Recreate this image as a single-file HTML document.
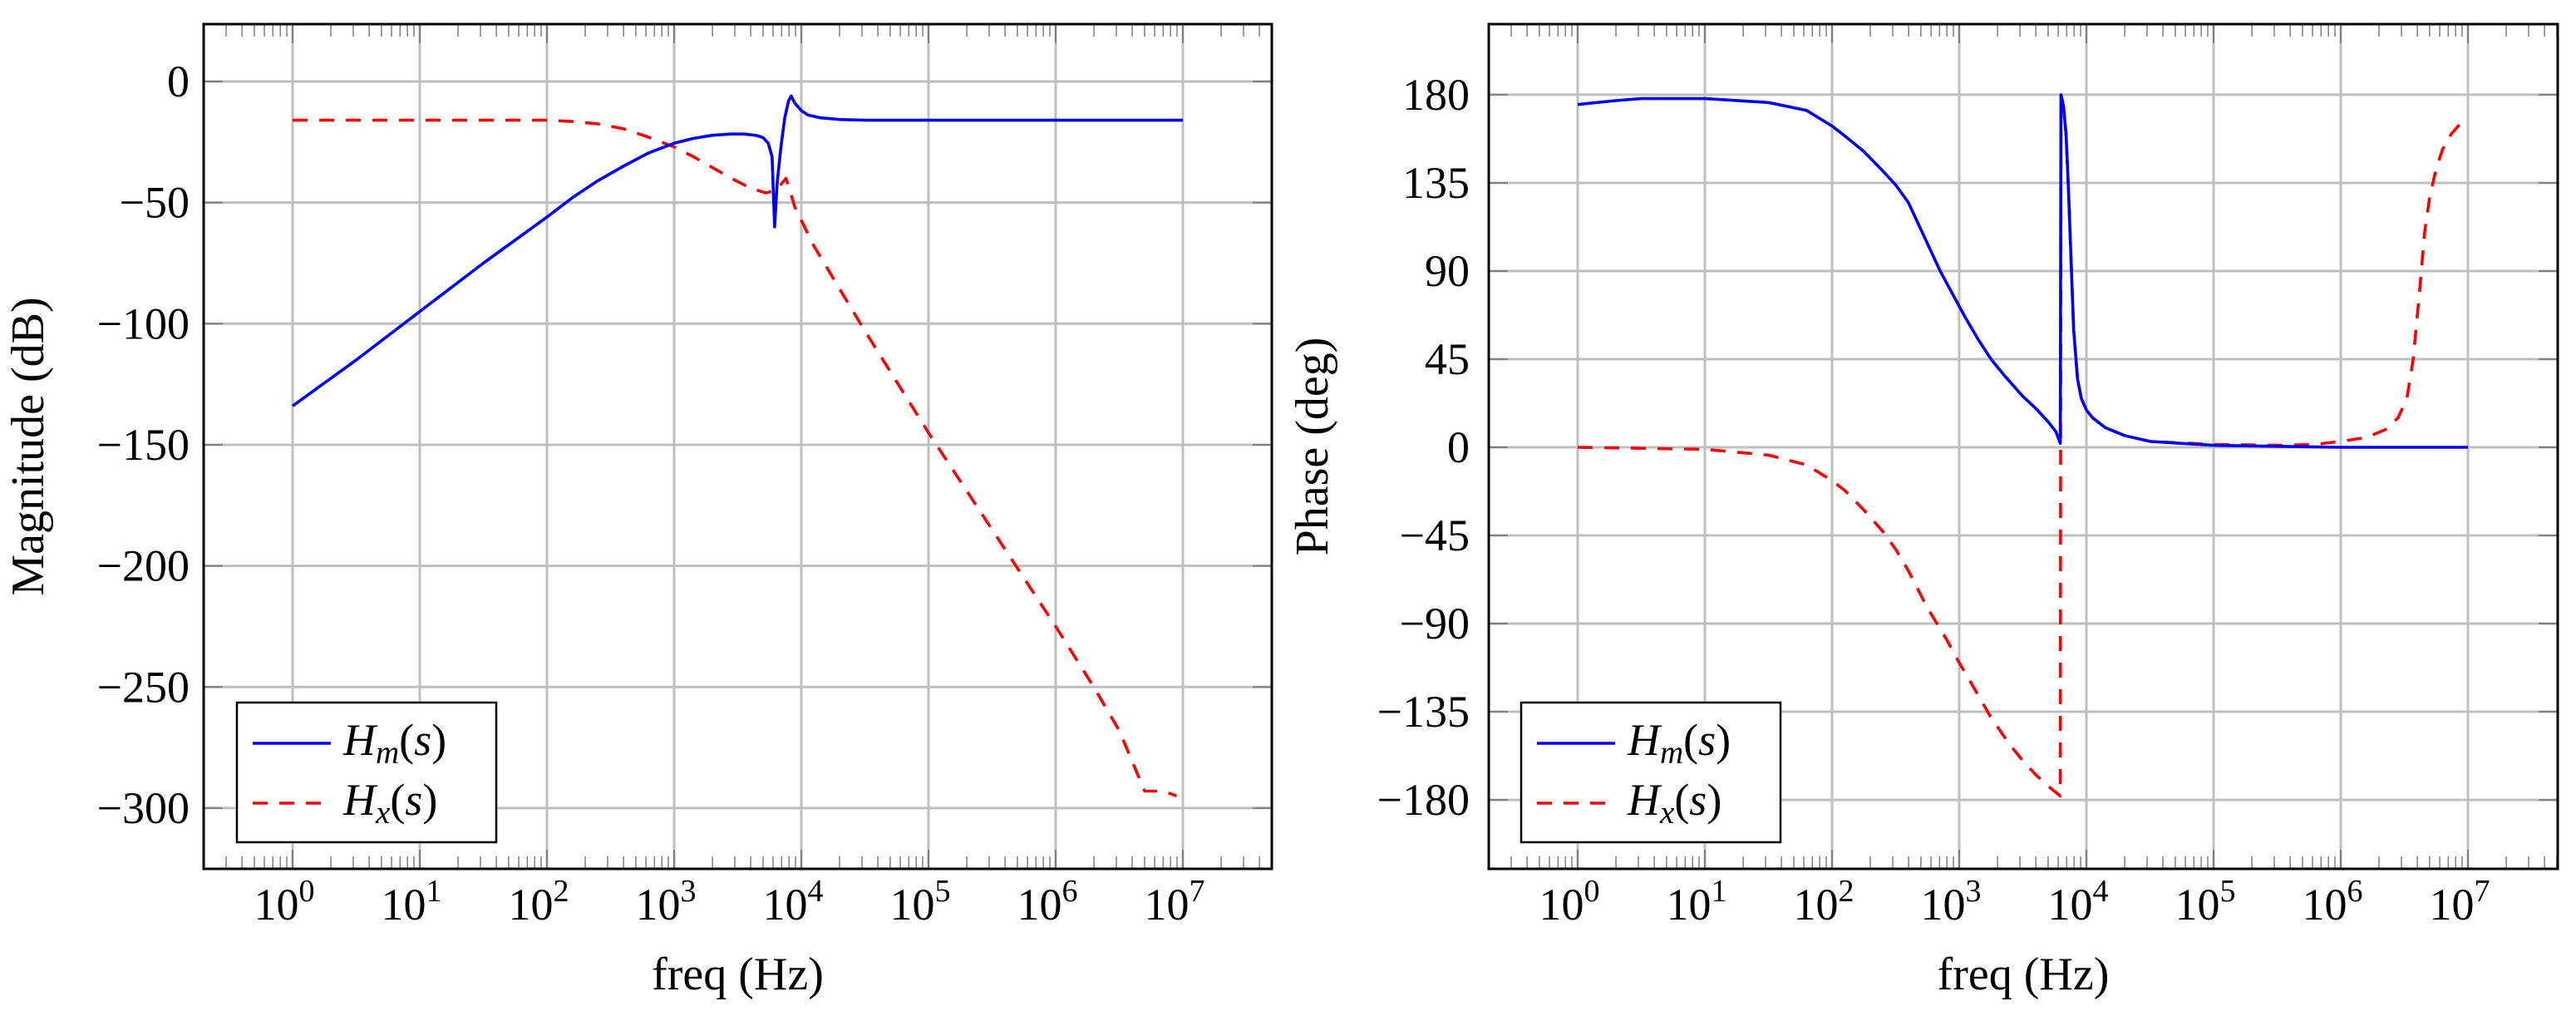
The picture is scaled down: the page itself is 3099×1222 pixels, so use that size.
<!DOCTYPE html>
<html><head><meta charset="utf-8"><style>
html,body{margin:0;padding:0;background:#fff;}
svg{display:block;}
text{font-family:"Liberation Serif","DejaVu Serif",serif;fill:#000;}
</style></head><body>
<svg id="fig" width="3099" height="1222" viewBox="0 0 3099 1222" xmlns="http://www.w3.org/2000/svg"></svg>
<script>
// ---- data (log10 frequency, value) ----
const magLogF_Hm = [0,0.5,1,1.5,2,2.2,2.4,2.6,2.8,3,3.15,3.3,3.45,3.55,3.65,3.7,3.74,3.77,3.79,3.81,3.84,3.87,3.9,3.92,3.95,4.0,4.05,4.15,4.3,4.5,5,6,7];
const magVal_Hm  = [-134,-115,-95,-75,-56,-48,-41,-35,-29.5,-25.5,-23.5,-22.2,-21.7,-21.7,-22.3,-23.2,-25.5,-31,-60,-42,-27,-15,-8,-6,-9,-12,-13.8,-15,-15.7,-16,-16,-16,-16];
const magLogF_Hx = [0,1,2,2.2,2.4,2.6,2.8,3,3.15,3.3,3.45,3.6,3.72,3.8,3.88,3.95,4.1,4.5,5,5.5,6,6.3,6.5,6.7,6.85,6.95];
const magVal_Hx  = [-16,-16,-16,-16.5,-17.5,-19.5,-23,-27,-31,-35.5,-40,-44,-46,-45,-40,-52,-68,-103,-145,-185,-225,-250,-268,-293,-293,-295];
const phLogF_Hm = [0,0.3,0.5,1,1.5,1.8,2,2.1,2.25,2.4,2.5,2.6,2.75,2.85,2.95,3.05,3.15,3.25,3.35,3.5,3.6,3.7,3.76,3.795,3.8,3.82,3.84,3.86,3.88,3.9,3.93,3.96,4.0,4.05,4.15,4.3,4.5,4.75,5,5.5,6,7];
const phVal_Hm  = [175,177,178,178,176,172,164,159,151,141,134,125,104,90,78,66,55,45,37,26,20,13,8,2,180,174,160,130,95,60,35,25,19,15,10,6,3,2,1,0.5,0,0];
const phLogF_Hx = [0,1,1.5,1.8,2,2.1,2.25,2.4,2.5,2.6,2.75,2.9,3,3.1,3.25,3.4,3.5,3.6,3.7,3.795,3.8,3.82,3.84,3.86,3.88,3.9,3.93,3.96,4.0,4.05,4.15,4.3,4.5,5,5.5,5.8,6,6.2,6.35,6.45,6.52,6.57,6.62,6.66,6.7,6.75,6.8,6.87,6.95];
const phVal_Hx  = [0,-1,-4,-9,-17,-22,-32,-43,-52,-63,-82,-98,-110,-121,-138,-152,-160,-167,-173,-178,180,174,160,130,95,60,35,25,19,15,10,6,3,1.5,1,1.5,3,5,9,15,25,45,80,110,128,142,152,160,166];
const xTickExp = [0,1,2,3,4,5,6,7];
const magTicks = [0,-50,-100,-150,-200,-250,-300];
const phTicks = [180,135,90,45,0,-45,-90,-135,-180];

const NS="http://www.w3.org/2000/svg";
const svg=document.getElementById('fig');
function el(tag,attrs,parent){const e=document.createElementNS(NS,tag);for(const k in attrs)e.setAttribute(k,attrs[k]);(parent||svg).appendChild(e);return e;}

function panel(cfg){
  const g=el('g',{});
  
  
  const L=cfg.left,R=cfg.right,T=29,B=1045;
  const x=v=>cfg.x0+v*153;
  const y=v=>cfg.y0-v*cfg.ky;
  xTickExp.forEach(e=>{const l=el('line',{x1:x(e),x2:x(e),y1:T,y2:B,stroke:'#bfbfbf','stroke-width':3},g);
    });
  cfg.ticks.forEach(t=>{const l=el('line',{x1:L,x2:R,y1:y(t),y2:y(t),stroke:'#bfbfbf','stroke-width':3},g);
    });
  for(let d=-1;d<=7;d++){for(let m=2;m<=9;m++){const xv=x(d+Math.log10(m));if(xv<=L||xv>=R)continue;
    el('line',{x1:xv,x2:xv,y1:T,y2:T+15,stroke:'#808080','stroke-width':1.5},g);
    el('line',{x1:xv,x2:xv,y1:B,y2:B-15,stroke:'#808080','stroke-width':1.5},g);}}
  xTickExp.forEach(e=>{el('line',{x1:x(e),x2:x(e),y1:T,y2:T+23,stroke:'#808080','stroke-width':2},g);
    el('line',{x1:x(e),x2:x(e),y1:B,y2:B-23,stroke:'#808080','stroke-width':2},g);});
  cfg.ticks.forEach(t=>{el('line',{x1:L,x2:L+23,y1:y(t),y2:y(t),stroke:'#808080','stroke-width':2},g);
    el('line',{x1:R,x2:R-23,y1:y(t),y2:y(t),stroke:'#808080','stroke-width':2},g);});
  function series(xs,ys,color,dash,nm){const p=el('path',{d:xs.map((v,i)=>(i?'L':'M')+x(v).toFixed(1)+' '+y(ys[i]).toFixed(1)).join(' '),fill:'none',stroke:color,'stroke-width':3.6,'stroke-dasharray':dash||'none','stroke-linejoin':'round'},g);
    }
  series(cfg.hxX,cfg.hxY,'#ff0000','18,14',cfg.name+'-hx-line');
  series(cfg.hmX,cfg.hmY,'#0000ff',null,cfg.name+'-hm-line');
  const f=el('rect',{x:L,y:T,width:R-L,height:B-T,fill:'none',stroke:'#000','stroke-width':3},g);
  
  xTickExp.forEach(e=>{const t=el('text',{x:x(e)-10,y:1106,'font-size':54,'text-anchor':'middle'},g);
    
    t.textContent='10';const s=el('tspan',{dy:-22,'font-size':38},t);s.textContent=String(e);});
  cfg.ticks.forEach(v=>{const t=el('text',{x:cfg.labRight,y:y(v)+18,'font-size':54,'text-anchor':'end'},g);
    
    t.textContent=v<0?'\u2212'+(-v):String(v);});
  const xt=el('text',{x:(L+R)/2,y:1190,'font-size':56,'text-anchor':'middle'},g);
  xt.textContent='freq (Hz)';
  const cy=(T+B)/2;
  const yt=el('text',{x:cfg.ytX,y:cy,'font-size':56,'text-anchor':'middle',transform:`rotate(-90 ${cfg.ytX} ${cy})`},g);
  yt.textContent=cfg.ytitle;
  const lg=el('g',{},g);
  const lx=cfg.legX;
  el('rect',{x:lx,y:845,width:312,height:168,fill:'#fff',stroke:'#000','stroke-width':2.5},lg);
  el('line',{x1:lx+19,x2:lx+113,y1:894,y2:894,stroke:'#0000ff','stroke-width':3.6},lg);
  el('line',{x1:lx+19,x2:lx+113,y1:966,y2:966,stroke:'#ff0000','stroke-width':3.6,'stroke-dasharray':'18,14'},lg);
  [['m',908],['x',980]].forEach(([sub,yy])=>{const t=el('text',{x:lx+128,y:yy,'font-size':54},lg);
    
    const a=el('tspan',{'font-style':'italic'},t);a.textContent='H';
    const b=el('tspan',{'font-style':'italic','font-size':39,dy:10},t);b.textContent=sub;
    const c=el('tspan',{dy:-10},t);c.textContent='(';
    const d=el('tspan',{'font-style':'italic'},t);d.textContent='s';
    const e2=el('tspan',{},t);e2.textContent=')';});
}
panel({name:'magnitude-plot',left:245,right:1530,x0:352,y0:98,ky:2.913,ticks:magTicks,labRight:228,ytX:52,ytitle:'Magnitude (dB)',legX:285,
  hmX:magLogF_Hm,hmY:magVal_Hm,hxX:magLogF_Hx,hxY:magVal_Hx});
panel({name:'phase-plot',left:1791,right:3077,x0:1898,y0:538,ky:2.356,ticks:phTicks,labRight:1768,ytX:1597,ytitle:'Phase (deg)',legX:1830,
  hmX:phLogF_Hm,hmY:phVal_Hm,hxX:phLogF_Hx,hxY:phVal_Hx});
</script>
</body></html>
